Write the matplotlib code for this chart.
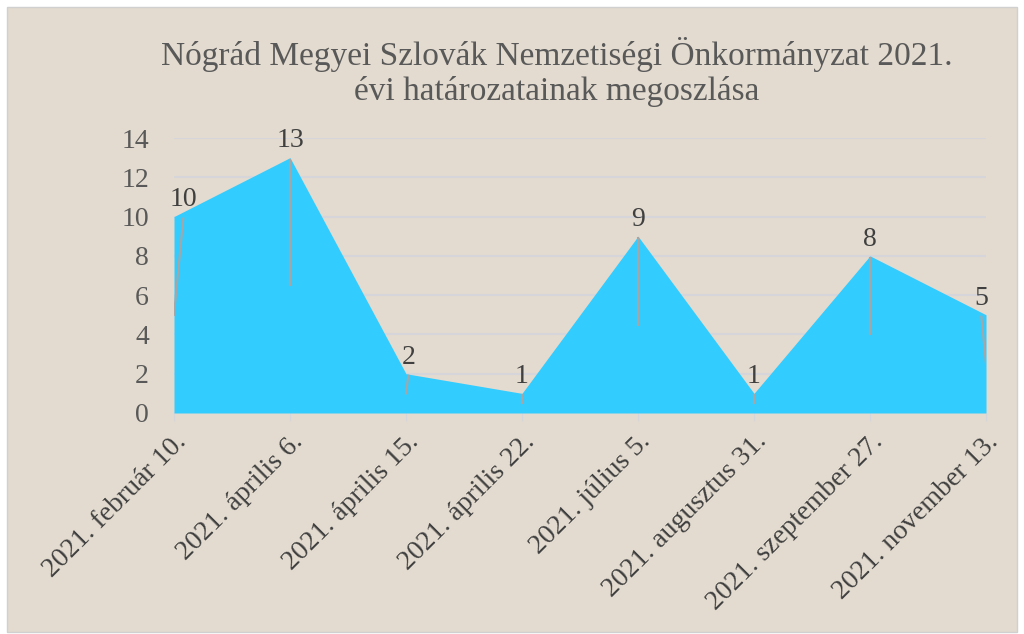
import matplotlib.pyplot as plt
from matplotlib.patches import Rectangle

plt.rcParams['font.family'] = ['Liberation Serif', 'DejaVu Serif']

# data
dates = ["2021. február 10.", "2021. április 6.", "2021. április 15.",
         "2021. április 22.", "2021. július 5.", "2021. augusztus 31.",
         "2021. szeptember 27.", "2021. november 13."]
counts = [10, 13, 2, 1, 9, 1, 8, 5]
yticks = [0, 2, 4, 6, 8, 10, 12, 14]
title = "Nógrád Megyei Szlovák Nemzetiségi Önkormányzat 2021.\névi határozatainak megoszlása"

bg = "#e3dbcf"
fig = plt.figure(figsize=(10.24, 6.34), dpi=100)
fig.patch.set_facecolor("white")
fig.patches.append(Rectangle((7 / 1024, 2 / 634), 1010 / 1024, 625 / 634,
                             transform=fig.transFigure, facecolor=bg,
                             edgecolor="#d0d0d0", linewidth=1, zorder=-10))

ax = fig.add_axes([174 / 1024, 1 - 413 / 634, 812 / 1024, 275 / 634])
ax.set_facecolor("none")

x = list(range(len(dates)))
ax.fill_between(x, counts, 0, color="#33ccff", linewidth=0, zorder=2)

ax.set_xlim(0, len(dates) - 1)
ax.set_ylim(0, 14)
ax.set_yticks(yticks)
ax.yaxis.grid(True, color="#d6d6da", linewidth=1.5)
ax.set_axisbelow(True)
for s in ax.spines.values():
    s.set_visible(False)

ax.tick_params(axis="y", length=0, labelsize=20, labelcolor="#595959", pad=18)
ax.tick_params(axis="x", length=6, color="#d6d6da", width=1)
ax.set_xticks(x)
ax.set_xticklabels(dates, rotation=45, ha="right", va="top",
                   rotation_mode="anchor", fontsize=20, color="#404040")
for lbl in ax.get_xticklabels():
    lbl.set_y(-0.01)

# data labels with leader lines
dx = [0.08, 0, 0.02, 0, 0, 0, 0, -0.04]
for xi, v, d in zip(x, counts, dx):
    ax.plot([xi + d, xi], [v - 0.1, v / 2], color="#a6a6a6", lw=1.5, zorder=3)
    ax.annotate(str(v), (xi + d, v), xytext=(0, 3), textcoords="offset points",
                ha="center", va="bottom", fontsize=20, color="#404040", zorder=4)

fig.text(557 / 1024, 1 - 72 / 634, title, ha="center", va="center",
         fontsize=24, color="#595959", linespacing=1.15)

fig.savefig("out.png", dpi=100, facecolor=fig.get_facecolor())
